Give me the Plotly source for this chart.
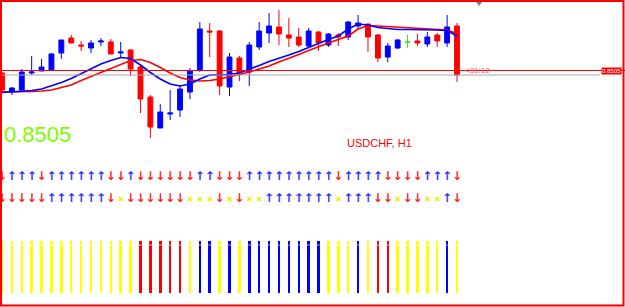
import plotly.graph_objects as go

# ---- data (prices in points, price = points / 1e5) ----
open_pts = [85045, 85007, 85011, 85045, 85049, 85051, 85085, 85115, 85101, 85095,
            85107, 85107, 85085, 85091, 85057, 84997, 84935, 84963, 84971, 85007,
            85051, 85129, 85129, 85017, 85075, 85047, 85097, 85125, 85137, 85121,
            85117, 85099, 85127, 85101, 85121, 85117, 85139, 85143, 85121, 85077,
            85095, 85107, 85109, 85103, 85121, 85105, 85139]
high_pts = [85047, 85017, 85053, 85079, 85073, 85085, 85111, 85121, 85109, 85111,
            85115, 85113, 85107, 85093, 85059, 85001, 84983, 85011, 85021, 85055,
            85147, 85145, 85131, 85085, 85079, 85107, 85147, 85165, 85171, 85155,
            85135, 85135, 85129, 85125, 85125, 85149, 85161, 85143, 85123, 85105,
            85113, 85121, 85123, 85127, 85125, 85161, 85145]
low_pts = [85009, 85001, 85007, 85041, 85049, 85051, 85073, 85105, 85089, 85085,
           85099, 85083, 85077, 85039, 84965, 84915, 84935, 84951, 84957, 84993,
           85047, 85077, 85001, 84999, 85029, 85019, 85091, 85105, 85101, 85097,
           85097, 85095, 85089, 85097, 85099, 85111, 85133, 85087, 85067, 85067,
           85093, 85095, 85099, 85097, 85097, 85097, 85027]
close_pts = [85011, 85015, 85047, 85047, 85057, 85083, 85111, 85105, 85099, 85105,
             85109, 85083, 85087, 85053, 84993, 84937, 84967, 84965, 85013, 85049,
             85133, 85127, 85019, 85077, 85045, 85101, 85129, 85139, 85123, 85115,
             85101, 85129, 85105, 85123, 85117, 85147, 85145, 85117, 85075, 85099,
             85111, 85107, 85105, 85117, 85109, 85137, 85041]
fast_ma_pts = [85006, 85007, 85008, 85010, 85013, 85019, 85026, 85034, 85044, 85054,
               85063, 85070, 85076, 85074, 85061, 85046, 85033, 85023, 85019, 85023,
               85033, 85041, 85042, 85042, 85045, 85052, 85060, 85068, 85074, 85081,
               85088, 85096, 85105, 85112, 85119, 85133, 85143, 85141, 85136, 85134,
               85132, 85132, 85132, 85131, 85131, 85130, 85119]
slow_ma_pts = [85007, 85007, 85007, 85008, 85009, 85011, 85016, 85021, 85030, 85038,
               85046, 85054, 85061, 85070, 85072, 85066, 85056, 85045, 85036, 85031,
               85029, 85030, 85033, 85037, 85042, 85047, 85053, 85059, 85067, 85074,
               85082, 85090, 85098, 85105, 85112, 85119, 85133, 85140, 85139, 85138,
               85136, 85136, 85134, 85133, 85132, 85131, 85124]
doji_index = 41
bid_price = 0.8505
bid_label = "0.8505"
symbol_label = "USDCHF, H1"
timer_label = "<31:12"

signal_row1 = list("DUUUDUUUUUUDDUDDDDDDUUDDD" "UUUUUUUUU" "D" "UUUU" "DDDD" "UUU" "D")
signal_row2 = list("DDDDDUUUUUUDXDDDDDDXXXDXD" "XX" "UUUUUUU" "X" "UUU" "DD" "X" "DD" "XX" "U" "D")
hist_colors = list("YYYYYYYYYYYYYYRRRRRYBBYBYBBBBBBBBYYYBYRRYYYYYBY")

n = len(open_pts)
idx = list(range(n))
P = lambda arr: [v / 1e5 for v in arr]
o, h, l, c = P(open_pts), P(high_pts), P(low_pts), P(close_pts)

BLUE = "#0000ff"
RED = "#ff0000"
YEL = "#ffff00"

fig = go.Figure()

main = [i for i in idx if i != doji_index]
fig.add_trace(go.Candlestick(
    x=main, open=[o[i] for i in main], high=[h[i] for i in main],
    low=[l[i] for i in main], close=[c[i] for i in main],
    increasing=dict(line=dict(color=BLUE, width=1), fillcolor=BLUE),
    decreasing=dict(line=dict(color=RED, width=1), fillcolor=RED),
    showlegend=False, hoverinfo="skip"))
fig.add_trace(go.Candlestick(
    x=[doji_index], open=[o[doji_index]], high=[h[doji_index]],
    low=[l[doji_index]], close=[c[doji_index]],
    increasing=dict(line=dict(color="#44dd22", width=1), fillcolor="#44dd22"),
    decreasing=dict(line=dict(color="#44dd22", width=1), fillcolor="#44dd22"),
    showlegend=False, hoverinfo="skip"))

fig.add_trace(go.Scatter(x=idx, y=P(slow_ma_pts), mode="lines",
                         line=dict(color=RED, width=1.6), showlegend=False, hoverinfo="skip"))
fig.add_trace(go.Scatter(x=idx, y=P(fast_ma_pts), mode="lines",
                         line=dict(color=BLUE, width=1.6), showlegend=False, hoverinfo="skip"))

# signal rows
def add_row(codes, row):
    ups = [i for i, s in enumerate(codes) if s == "U"]
    dns = [i for i, s in enumerate(codes) if s == "D"]
    xs = [i for i, s in enumerate(codes) if s == "X"]
    fig.add_trace(go.Scatter(x=ups, y=[row] * len(ups), yaxis="y2", mode="text", text=["↑"] * len(ups),
                             textfont=dict(color="#3333ff", size=12, family="DejaVu Sans", weight="bold"),
                             showlegend=False, hoverinfo="skip"))
    fig.add_trace(go.Scatter(x=dns, y=[row] * len(dns), yaxis="y2", mode="text", text=["↓"] * len(dns),
                             textfont=dict(color="#ff2222", size=12, family="DejaVu Sans", weight="bold"),
                             showlegend=False, hoverinfo="skip"))
    if xs:
        fig.add_trace(go.Scatter(x=xs, y=[row] * len(xs), yaxis="y2", mode="markers",
                                 marker=dict(symbol="x-thin", size=4, line=dict(color="#eeee00", width=1.5)),
                                 showlegend=False, hoverinfo="skip"))

add_row(signal_row1, 1)
add_row(signal_row2, 2)

cmap = {"Y": YEL, "R": RED, "B": BLUE}
fig.add_trace(go.Bar(x=idx, y=[1] * n, yaxis="y3", width=0.25,
                     marker=dict(color=[cmap[s] for s in hist_colors], line=dict(width=0)),
                     showlegend=False, hoverinfo="skip"))

W, H = 625, 307
px_per_bar = 455 / 46
x0 = -2 / px_per_bar
x1 = x0 + W / px_per_bar

fig.update_layout(
    width=W, height=H, margin=dict(l=0, r=0, t=0, b=0),
    paper_bgcolor="white", plot_bgcolor="white",
    font=dict(family="Liberation Sans, Arial, sans-serif"),
    showlegend=False, bargap=0,
    xaxis=dict(range=[x0, x1], visible=False, rangeslider=dict(visible=False), fixedrange=True),
    yaxis=dict(range=[0.84577, 0.85191], visible=False, fixedrange=True),
    yaxis2=dict(range=[1 + (H - 177) / 22, 1 - 177 / 22], overlaying="y", anchor="x", visible=False),
    yaxis3=dict(range=[-(H - 293) / 52, 293 / 52], overlaying="y", anchor="x", visible=False),
    shapes=[
        dict(type="line", xref="paper", x0=0, x1=1, yref="y", y0=bid_price, y1=bid_price,
             line=dict(color=RED, width=1)),
        dict(type="line", xref="paper", x0=0, x1=600 / W, yref="y", y0=c[-1], y1=c[-1],
             line=dict(color="#a8a8a8", width=1)),
        dict(type="line", xref="paper", x0=0, x1=1, yref="y3", y0=(293 - 245) / 52, y1=(293 - 245) / 52,
             line=dict(color="rgba(255,255,255,0.55)", width=1)),
        dict(type="path", xref="paper", yref="paper",
             path=f"M {476/W} {1-2/H} L {482/W} {1-2/H} L {479/W} {1-6/H} Z",
             fillcolor="#808080", line=dict(width=0)),
        dict(type="rect", xref="paper", yref="paper", x0=1 / W, x1=623.5 / W, y0=1 - 305.5 / H, y1=1 - 1 / H,
             line=dict(color=RED, width=2)),
    ],
    annotations=[
        dict(text=bid_label, xref="paper", yref="paper", x=2 / W, y=1 - 134 / H, xanchor="left", yanchor="middle",
             showarrow=False, font=dict(color="#7cfc00", size=22, family="Liberation Sans, Arial")),
        dict(text=symbol_label, xref="paper", yref="paper", x=379.5 / W, y=1 - 143 / H, xanchor="center",
             yanchor="middle", showarrow=False, font=dict(color=RED, size=11, family="Liberation Sans, Arial")),
        dict(text=timer_label, xref="x", yref="y", x=n - 1 + 0.6, y=bid_price, xanchor="left", yanchor="middle",
             showarrow=False, font=dict(color="#ff5555", size=8, family="Liberation Sans, Arial")),
        dict(text=bid_label, xref="paper", yref="y", x=622 / W, y=bid_price, xanchor="right", yanchor="middle",
             showarrow=False, bgcolor=RED, borderpad=0,
             font=dict(color="white", size=6, family="Liberation Sans, Arial")),
    ],
)

fig.write_html("out.html")
